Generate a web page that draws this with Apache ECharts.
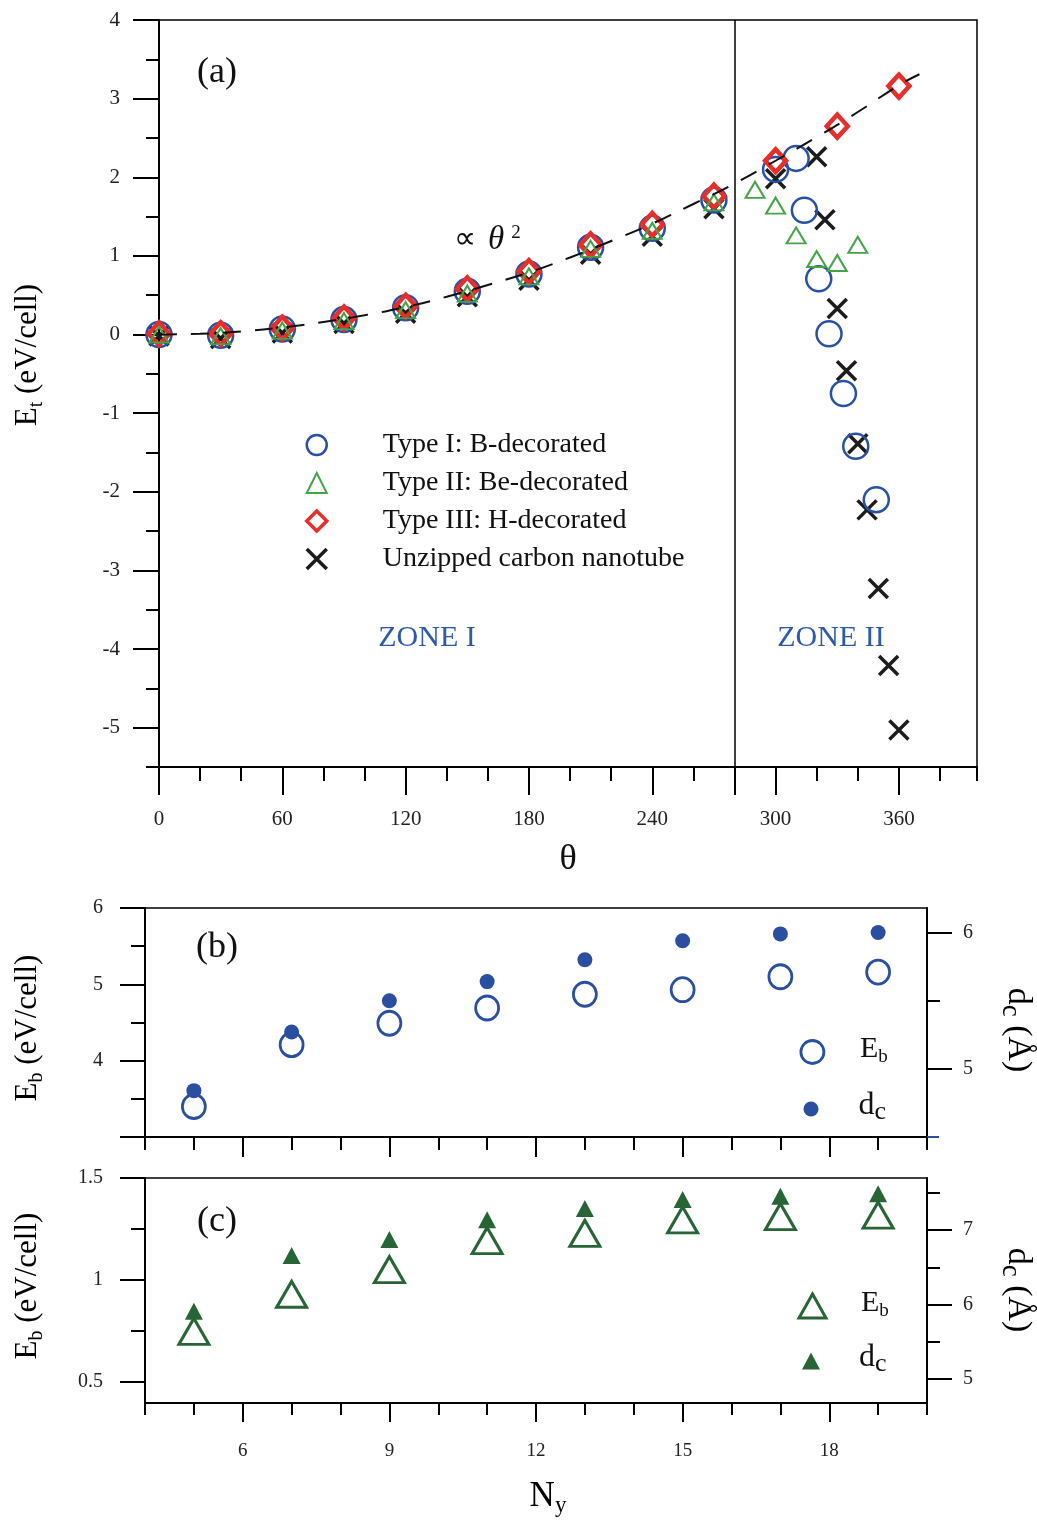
<!DOCTYPE html>
<html>
<head>
<meta charset="utf-8">
<script src="https://cdn.jsdelivr.net/npm/echarts@6/dist/echarts.min.js"></script>
<style>
  html, body { margin: 0; padding: 0; background: #fff; }
  #chart { width: 1037px; height: 1524px; }
</style>
</head>
<body>
<div id="chart"></div>
<script>
// ---- Panel (a): formation energy versus twist angle ----
const typeITheta   = [0, 30, 60, 90, 120, 150, 180, 210, 240, 270, 300, 310, 314, 321, 326, 333, 339, 349];
const typeIE       = [0, -0.01, 0.07, 0.19, 0.34, 0.55, 0.77, 1.11, 1.35, 1.71, 2.10, 2.24, 1.58, 0.71, 0.01, -0.75, -1.42, -2.10];
const typeIITheta  = [0, 30, 60, 90, 120, 150, 180, 210, 240, 270, 290, 300, 310, 320, 330, 340];
const typeIIE      = [0, -0.02, 0.05, 0.17, 0.31, 0.52, 0.74, 1.09, 1.32, 1.68, 1.84, 1.64, 1.26, 0.96, 0.91, 1.14];
const typeIIITheta = [0, 30, 60, 90, 120, 150, 180, 210, 240, 270, 300, 330, 360];
const typeIIIE     = [0.01, 0.01, 0.08, 0.21, 0.36, 0.58, 0.80, 1.14, 1.40, 1.76, 2.21, 2.65, 3.16];
const cntTheta     = [0, 30, 60, 90, 120, 150, 180, 210, 240, 270, 300, 320, 324, 330, 334.5, 340, 344.5, 350, 355, 360];
const cntE         = [-0.02, -0.05, 0.02, 0.14, 0.27, 0.48, 0.69, 1.02, 1.25, 1.60, 1.98, 2.26, 1.46, 0.33, -0.46, -1.39, -2.23, -3.23, -4.21, -5.03];
// quadratic trend guide (dashed)
const fitTheta     = [0, 20, 40, 60, 80, 100, 120, 140, 160, 180, 200, 220, 240, 260, 280, 300, 320, 340, 360, 370];
const fitE         = [0, 0.01, 0.04, 0.09, 0.16, 0.245, 0.35, 0.48, 0.63, 0.79, 0.98, 1.19, 1.41, 1.66, 1.92, 2.21, 2.51, 2.83, 3.17, 3.31];
const zoneBoundary = 280;

const thetaMajorTicks = [0, 60, 120, 180, 240, 280, 300, 360];
const thetaLabels     = [0, 60, 120, 180, 240, 300, 360];
const thetaMinorTicks = [20, 40, 80, 100, 140, 160, 200, 220, 260, 320, 340, 380, 398];
const etMajorTicks    = [-5, -4, -3, -2, -1, 0, 1, 2, 3, 4];
const etMinorTicks    = [-5.5, -4.5, -3.5, -2.5, -1.5, -0.5, 0.5, 1.5, 2.5, 3.5];

// ---- Panels (b) and (c): binding energy and distance versus N_y ----
const ny    = [5, 7, 9, 11, 13, 15, 17, 19];
const ebB   = [3.40, 4.21, 4.49, 4.69, 4.87, 4.93, 5.10, 5.16];
const dcB   = [4.84, 5.27, 5.50, 5.64, 5.80, 5.94, 5.99, 6.00];
const ebC   = [0.747, 0.929, 1.05, 1.192, 1.228, 1.294, 1.31, 1.318];
const dcC   = [5.91, 6.66, 6.875, 7.14, 7.29, 7.41, 7.455, 7.49];

const nyMajorTicks = [6, 9, 12, 15, 18];
const nyMinorTicks = [4, 5, 7, 8, 10, 11, 13, 14, 16, 17, 19, 20];

const FONT  = "'Liberation Serif','Times New Roman',serif";
const BLUE  = '#2850a4';
const GREEN = '#45a348';
const RED   = '#e62e2b';
const DARK  = '#1c1c1c';
const BLUE2 = '#2a4fa1';
const GREEN2 = '#276536';
const CLEAR = 'rgba(0,0,0,0)';
const CROSS = 'path://M0,0L10,10M10,0L0,10';

const zip = (xs, ys) => xs.map((x, i) => [x, ys[i]]);

function axis(o) {
  return {
    type: 'value', gridIndex: o.grid, position: o.pos, min: o.min, max: o.max,
    axisLine: { show: o.line !== false, onZero: false, lineStyle: { color: '#000', width: 2 } },
    axisTick: { show: true, customValues: o.ticks, length: o.len,
                lineStyle: { color: o.tickColor || '#000', width: 2 } },
    axisLabel: o.labels
      ? { show: true, customValues: o.labels, margin: o.margin, fontSize: o.fs || 20,
          fontFamily: FONT, color: '#222' }
      : { show: false },
    splitLine: { show: false }
  };
}

const subRich = (big, small) => ({
  n: { fontSize: big, fontFamily: FONT, color: '#111', lineHeight: big, padding: [0, 0, Math.round(big * 0.2), 0] },
  s: { fontSize: small, fontFamily: FONT, color: '#111', lineHeight: small, verticalAlign: 'bottom' }
});

const chart = echarts.init(document.getElementById('chart'), null, { renderer: 'canvas' });

const option = {
  animation: false,
  backgroundColor: '#fff',
  grid: [
    { left: 159, top: 20, width: 818, height: 747, show: true, borderColor: '#000', borderWidth: 1.5, outerBoundsMode: 'none' },
    { left: 145, top: 908, width: 782, height: 229, show: true, borderColor: '#000', borderWidth: 1.5, outerBoundsMode: 'none' },
    { left: 145, top: 1178, width: 782, height: 225, show: true, borderColor: '#000', borderWidth: 1.5, outerBoundsMode: 'none' }
  ],
  xAxis: [
    axis({ grid: 0, pos: 'bottom', min: 0, max: 398, ticks: thetaMajorTicks, len: 28, labels: thetaLabels, margin: 42, fs: 21 }),
    axis({ grid: 0, pos: 'bottom', min: 0, max: 398, ticks: thetaMinorTicks, len: 14, line: false }),
    axis({ grid: 1, pos: 'bottom', min: 4, max: 20, ticks: nyMajorTicks, len: 20 }),
    axis({ grid: 1, pos: 'bottom', min: 4, max: 20, ticks: nyMinorTicks, len: 13, line: false }),
    axis({ grid: 2, pos: 'bottom', min: 4, max: 20, ticks: nyMajorTicks, len: 19, labels: nyMajorTicks, margin: 39, fs: 19 }),
    axis({ grid: 2, pos: 'bottom', min: 4, max: 20, ticks: nyMinorTicks, len: 12, line: false })
  ],
  yAxis: [
    axis({ grid: 0, pos: 'left', min: -5.5, max: 4, ticks: etMajorTicks, len: 26, labels: etMajorTicks, margin: 39, fs: 21 }),
    axis({ grid: 0, pos: 'left', min: -5.5, max: 4, ticks: etMinorTicks, len: 13, line: false }),
    axis({ grid: 1, pos: 'left', min: 3, max: 6, ticks: [3, 4, 5, 6], len: 25, labels: [4, 5, 6], margin: 42 }),
    axis({ grid: 1, pos: 'left', min: 3, max: 6, ticks: [3.5, 4.5, 5.5], len: 14, line: false }),
    axis({ grid: 1, pos: 'right', min: 4.5, max: 6.18, ticks: [5, 6], len: 25, labels: [5, 6], margin: 36 }),
    axis({ grid: 1, pos: 'right', min: 4.5, max: 6.18, ticks: [5.5], len: 13, line: false }),
    axis({ grid: 1, pos: 'right', min: 4.5, max: 6.18, ticks: [4.5], len: 12, line: false, tickColor: BLUE2 }),
    axis({ grid: 2, pos: 'left', min: 0.395, max: 1.5, ticks: [0.5, 1, 1.5], len: 25, labels: [0.5, 1, 1.5], margin: 42 }),
    axis({ grid: 2, pos: 'left', min: 0.395, max: 1.5, ticks: [0.75, 1.25], len: 14, line: false }),
    axis({ grid: 2, pos: 'right', min: 4.68, max: 7.70, ticks: [5, 6, 7], len: 25, labels: [5, 6, 7], margin: 36 }),
    axis({ grid: 2, pos: 'right', min: 4.68, max: 7.70, ticks: [5.5, 6.5, 7.5], len: 13, line: false })
  ],
  legend: [
    {
      left: 305, top: 431, padding: 0, orient: 'vertical', itemWidth: 20, itemHeight: 20, itemGap: 10,
      selectedMode: false,
      textStyle: { fontFamily: FONT, fontSize: 28, color: '#111', padding: [0, 0, 0, 51] },
      data: [
        { name: 'Type I: B-decorated', itemStyle: { borderWidth: 2.5 } },
        { name: 'Type II: Be-decorated', itemStyle: { borderWidth: 2 } },
        { name: 'Type III: H-decorated', itemStyle: { borderWidth: 3.5 } },
        { name: 'Unzipped carbon nanotube', itemStyle: { borderWidth: 3.5 } }
      ]
    },
    {
      left: 799.5, top: 1034, padding: 0, itemWidth: 23, itemHeight: 24, selectedMode: false,
      data: [{ name: 'Eb (b)', itemStyle: { borderWidth: 2.8 } }],
      formatter: () => '{n|E}{s|b}',
      textStyle: { padding: [0, 0, 0, 31], rich: subRich(30, 19) }
    },
    {
      left: 803.5, top: 1090, padding: 0, itemWidth: 15, itemHeight: 15, selectedMode: false,
      data: ['dc (b)'],
      formatter: () => '{n|d}{s|c}',
      textStyle: { padding: [0, 0, 0, 35], rich: subRich(32, 26) }
    },
    {
      left: 797.5, top: 1288, padding: 0, itemWidth: 27, itemHeight: 24, selectedMode: false,
      data: [{ name: 'Eb (c)', itemStyle: { borderWidth: 3 } }],
      formatter: () => '{n|E}{s|b}',
      textStyle: { padding: [0, 0, 0, 30], rich: subRich(30, 19) }
    },
    {
      left: 802, top: 1342, padding: 0, itemWidth: 18, itemHeight: 17, selectedMode: false,
      data: ['dc (c)'],
      formatter: () => '{n|d}{s|c}',
      textStyle: { padding: [0, 0, 0, 34], rich: subRich(32, 26) }
    }
  ],
  series: [
    {
      name: 'Unzipped carbon nanotube', type: 'scatter', xAxisIndex: 0, yAxisIndex: 0,
      data: zip(cntTheta, cntE), symbol: CROSS, symbolSize: 19,
      itemStyle: { color: DARK, borderColor: DARK, borderWidth: 3.5, opacity: 1 },
      emphasis: { disabled: true }
    },
    {
      name: 'Type I: B-decorated', type: 'scatter', xAxisIndex: 0, yAxisIndex: 0,
      data: zip(typeITheta, typeIE), symbol: 'circle', symbolSize: 25,
      itemStyle: { color: CLEAR, borderColor: BLUE, borderWidth: 2.5, opacity: 1 },
      emphasis: { disabled: true }
    },
    {
      name: 'Type III: H-decorated', type: 'scatter', xAxisIndex: 0, yAxisIndex: 0,
      data: zip(typeIIITheta, typeIIIE), symbol: 'diamond', symbolSize: [21, 23],
      itemStyle: { color: CLEAR, borderColor: RED, borderWidth: 4.5, opacity: 1 },
      emphasis: { disabled: true }
    },
    {
      name: 'Type II: Be-decorated', type: 'scatter', xAxisIndex: 0, yAxisIndex: 0,
      data: zip(typeIITheta, typeIIE), symbol: 'triangle', symbolSize: [19, 16],
      itemStyle: { color: CLEAR, borderColor: GREEN, borderWidth: 2, opacity: 1 },
      emphasis: { disabled: true }
    },
    {
      name: 'trend', type: 'line', xAxisIndex: 0, yAxisIndex: 0,
      data: zip(fitTheta, fitE), smooth: true, showSymbol: false, symbol: 'none',
      lineStyle: { color: '#111', width: 2, type: [18, 14] },
      emphasis: { disabled: true }, silent: true,
      markLine: {
        silent: true, symbol: 'none', label: { show: false },
        lineStyle: { color: '#000', width: 1.5, type: 'solid' },
        data: [{ xAxis: zoneBoundary }]
      }
    },
    {
      name: 'Eb (b)', type: 'scatter', xAxisIndex: 2, yAxisIndex: 2,
      data: zip(ny, ebB), symbol: 'circle', symbolSize: [23, 24],
      itemStyle: { color: CLEAR, borderColor: BLUE2, borderWidth: 2.8, opacity: 1 },
      emphasis: { disabled: true }
    },
    {
      name: 'dc (b)', type: 'scatter', xAxisIndex: 2, yAxisIndex: 4,
      data: zip(ny, dcB), symbol: 'circle', symbolSize: 15,
      itemStyle: { color: BLUE2, opacity: 1 },
      emphasis: { disabled: true }
    },
    {
      name: 'Eb (c)', type: 'scatter', xAxisIndex: 4, yAxisIndex: 7,
      data: zip(ny, ebC), symbol: 'triangle', symbolSize: [30, 26],
      itemStyle: { color: CLEAR, borderColor: GREEN2, borderWidth: 3, opacity: 1 },
      emphasis: { disabled: true }
    },
    {
      name: 'dc (c)', type: 'scatter', xAxisIndex: 4, yAxisIndex: 9,
      data: zip(ny, dcC), symbol: 'triangle', symbolSize: [18, 17],
      itemStyle: { color: GREEN2, opacity: 1 },
      emphasis: { disabled: true }
    }
  ],
  graphic: [
    { type: 'text', x: 217, y: 73, style: { text: '(a)', fontSize: 36, fontFamily: FONT, fill: '#111', align: 'center', verticalAlign: 'middle' } },
    { type: 'text', x: 217, y: 948, style: { text: '(b)', fontSize: 36, fontFamily: FONT, fill: '#111', align: 'center', verticalAlign: 'middle' } },
    { type: 'text', x: 217, y: 1222, style: { text: '(c)', fontSize: 36, fontFamily: FONT, fill: '#111', align: 'center', verticalAlign: 'middle' } },
    {
      type: 'text', x: 454, y: 240,
      style: {
        text: '{a|∝}{b|θ}{c|2}', align: 'left', verticalAlign: 'middle',
        rich: {
          a: { fontSize: 31, fontFamily: FONT, fill: '#111', padding: [0, 12, 0, 0] },
          b: { fontSize: 33, fontFamily: FONT, fontStyle: 'italic', fill: '#111', padding: [0, 7, 0, 0] },
          c: { fontSize: 19, fontFamily: FONT, fill: '#111', verticalAlign: 'top' }
        }
      }
    },
    { type: 'text', x: 427, y: 638, style: { text: 'ZONE I', fontSize: 30, fontFamily: FONT, fill: '#2e5aa8', align: 'center', verticalAlign: 'middle' } },
    { type: 'text', x: 831, y: 638, style: { text: 'ZONE II', fontSize: 30, fontFamily: FONT, fill: '#2e5aa8', align: 'center', verticalAlign: 'middle' } },
    { type: 'text', x: 568, y: 860, style: { text: 'θ', fontSize: 36, fontFamily: FONT, fill: '#111', align: 'center', verticalAlign: 'middle' } },
    {
      type: 'text', x: 548, y: 1500,
      style: { text: '{n|N}{s|y}', align: 'center', verticalAlign: 'middle', rich: subRich(35, 23) }
    },
    {
      type: 'text', x: 31, y: 355, rotation: Math.PI / 2,
      style: { text: '{n|E}{s|t}{n| (eV/cell)}', align: 'center', verticalAlign: 'middle', rich: subRich(31, 20) }
    },
    {
      type: 'text', x: 31, y: 1028, rotation: Math.PI / 2,
      style: { text: '{n|E}{s|b}{n| (eV/cell)}', align: 'center', verticalAlign: 'middle', rich: subRich(31, 20) }
    },
    {
      type: 'text', x: 31, y: 1286, rotation: Math.PI / 2,
      style: { text: '{n|E}{s|b}{n| (eV/cell)}', align: 'center', verticalAlign: 'middle', rich: subRich(31, 20) }
    },
    {
      type: 'text', x: 1014, y: 1030, rotation: -Math.PI / 2,
      style: { text: '{n|d}{s|c}{n| (Å)}', align: 'center', verticalAlign: 'middle', rich: subRich(34, 27) }
    },
    {
      type: 'text', x: 1014, y: 1290, rotation: -Math.PI / 2,
      style: { text: '{n|d}{s|c}{n| (Å)}', align: 'center', verticalAlign: 'middle', rich: subRich(34, 27) }
    }
  ]
};

chart.setOption(option);
</script>
</body>
</html>
